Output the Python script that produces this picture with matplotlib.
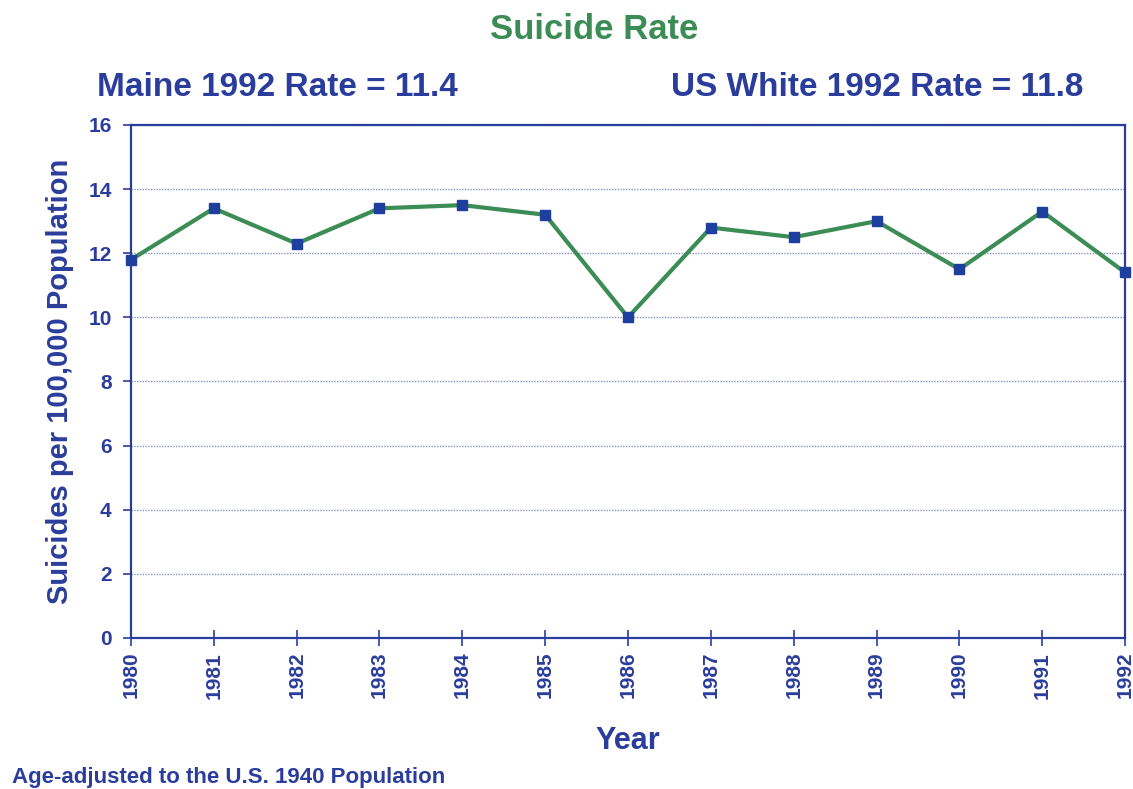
import matplotlib.pyplot as plt

plt.rcParams["font.family"] = ["Liberation Sans", "DejaVu Sans"]

years = [1980, 1981, 1982, 1983, 1984, 1985, 1986, 1987, 1988, 1989, 1990, 1991, 1992]
rate = [11.8, 13.4, 12.3, 13.4, 13.5, 13.2, 10.0, 12.8, 12.5, 13.0, 11.5, 13.3, 11.4]
yticks = [0, 2, 4, 6, 8, 10, 12, 14, 16]

blue = "#2b3d9c"
green = "#3b8c55"

fig = plt.figure(figsize=(11.33, 7.89), dpi=100)
ax = fig.add_axes([0.1156, 0.1914, 0.8774, 0.6502])

ax.plot(years, rate, color=green, lw=3, marker="s", ms=7,
        mfc="#1f3f9f", mec="#1f3f9f", zorder=3, clip_on=False)

ax.set_xlim(1980, 1992)
ax.set_ylim(0, 16)
ax.set_yticks(yticks)
ax.set_xticks(years)
ax.set_xticklabels([str(y) for y in years], rotation=90)

for s in ax.spines.values():
    s.set_color(blue)
    s.set_linewidth(1.6)

ax.tick_params(axis="y", colors=blue, direction="out", length=6, width=1.2,
               labelsize=15, pad=8)
ax.tick_params(axis="x", colors=blue, direction="inout", length=12, width=1.2,
               labelsize=15, pad=4)
for lab in ax.get_xticklabels() + ax.get_yticklabels():
    lab.set_fontweight("bold")

ax.grid(axis="y", color="#8a93c4", linestyle=(0, (1, 1)), linewidth=1.0)
ax.set_axisbelow(True)

ax.set_ylabel("Suicides per 100,000 Population", color=blue, fontsize=21,
              fontweight="bold", labelpad=10)
ax.set_xlabel("Year", color=blue, fontsize=22, fontweight="bold", labelpad=20)

fig.text(0.524, 0.962, "Suicide Rate", color=green, fontsize=25,
         fontweight="bold", ha="center", va="center")
fig.text(0.086, 0.889, "Maine 1992 Rate = 11.4", color=blue, fontsize=24,
         fontweight="bold", ha="left", va="center")
fig.text(0.956, 0.889, "US White 1992 Rate = 11.8", color=blue, fontsize=24,
         fontweight="bold", ha="right", va="center")
fig.text(0.011, 0.015, "Age-adjusted to the U.S. 1940 Population", color=blue,
         fontsize=16, fontweight="bold", ha="left", va="center")

plt.savefig("out.png", dpi=100)
